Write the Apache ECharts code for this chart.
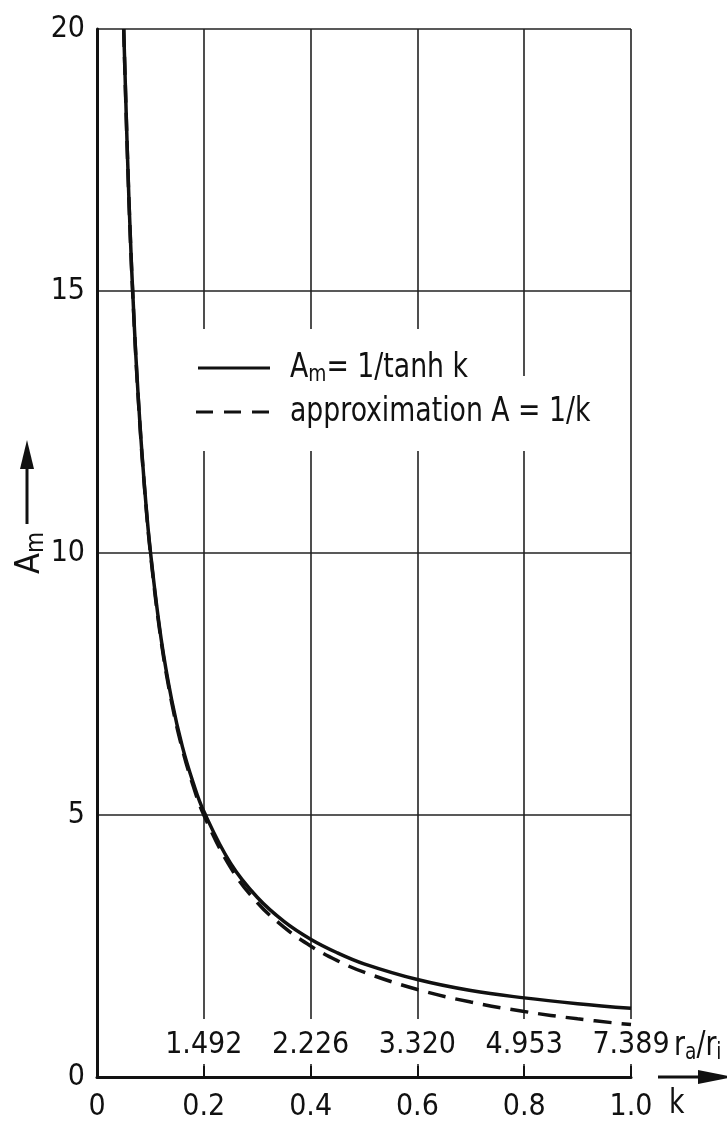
<!DOCTYPE html>
<html>
<head>
<meta charset="utf-8">
<script src="https://cdn.jsdelivr.net/npm/echarts@6/dist/echarts.min.js"></script>
<style>
  html, body { margin: 0; padding: 0; background: #fff; }
  #chart { width: 727px; height: 1126px; }
</style>
</head>
<body>
<div id="chart"></div>
<script>
// values
const kValues = [0.05, 0.06, 0.07, 0.08, 0.09, 0.10, 0.12, 0.14, 0.16, 0.18, 0.20,
  0.25, 0.30, 0.35, 0.40, 0.45, 0.50, 0.60, 0.70, 0.80, 0.90, 1.00]
const amValues = [20.0, 16.69, 14.31, 12.53, 11.14, 10.03, 8.37, 7.19, 6.30, 5.62, 5.07,
  4.08, 3.43, 2.97, 2.63, 2.37, 2.16, 1.86, 1.65, 1.51, 1.40, 1.31]
const approxValues = [20.0, 16.67, 14.29, 12.5, 11.11, 10.0, 8.33, 7.14, 6.25, 5.56, 5.0,
  4.0, 3.33, 2.86, 2.5, 2.22, 2.0, 1.67, 1.43, 1.25, 1.11, 1.0]
const kLabels = ['0', '0.2', '0.4', '0.6', '0.8', '1.0']
const ratioLabels = ['', '1.492', '2.226', '3.320', '4.953', '7.389']
const yLabels = ['0', '5', '10', '15', '20']

const FONT = "'DejaVu Sans Condensed', 'DejaVu Sans', sans-serif"
const INK = '#111'
const NARROW = 0.9 // squeeze free text towards the narrow lettering of the original

const chart = echarts.init(document.getElementById('chart'))

const pairs = (ys) => kValues.map((k, i) => [k, ys[i]])
const tickIndex = (v) => Math.round(v * 5)

chart.setOption({
  backgroundColor: '#fff',
  animation: false,
  grid: { left: 97, right: 96, top: 29, bottom: 49 },
  xAxis: [
    {
      type: 'value',
      min: 0,
      max: 1,
      interval: 0.2,
      z: 0,
      axisLine: { show: true, lineStyle: { color: INK, width: 3 } },
      axisTick: { show: true, inside: true, length: 11, lineStyle: { color: INK, width: 2 } },
      splitLine: { show: true, lineStyle: { color: '#222', width: 1.6 } },
      axisLabel: {
        margin: 15,
        fontFamily: FONT,
        fontSize: 30,
        color: INK,
        showMinLabel: true,
        showMaxLabel: true,
        formatter: (v) => kLabels[tickIndex(v)],
      },
    },
    {
      type: 'value',
      position: 'bottom',
      min: 0,
      max: 1,
      interval: 0.2,
      z: 5,
      axisLine: { show: false },
      axisTick: { show: false },
      splitLine: { show: false },
      axisLabel: {
        inside: true,
        margin: 17,
        fontFamily: FONT,
        fontSize: 30,
        color: INK,
        showMinLabel: true,
        showMaxLabel: true,
        formatter: (v) => ratioLabels[tickIndex(v)],
      },
    },
  ],
  yAxis: {
    type: 'value',
    min: 0,
    max: 20,
    interval: 5,
    axisLine: { show: true, lineStyle: { color: INK, width: 3 } },
    axisTick: { show: false },
    splitLine: { show: true, lineStyle: { color: '#222', width: 1.6 } },
    axisLabel: {
      margin: 12,
      fontFamily: FONT,
      fontSize: 30,
      color: INK,
      formatter: (v) => yLabels[Math.round(v / 5)],
    },
  },
  series: [
    {
      type: 'line',
      data: pairs(approxValues),
      smooth: 0.4,
      symbol: 'none',
      z: 2,
      lineStyle: { color: INK, width: 3.5, type: [18, 10] },
    },
    {
      type: 'line',
      data: pairs(amValues),
      smooth: 0.4,
      symbol: 'none',
      z: 3,
      lineStyle: { color: INK, width: 3.5 },
    },
  ],
  graphic: [
    // breaks in the grid behind the key and above the r_a/r_i row
    { type: 'rect', z: 1, shape: { x: 195, y: 329, width: 310, height: 122 }, style: { fill: '#fff' } },
    { type: 'rect', z: 1, shape: { x: 505, y: 376, width: 100, height: 75 }, style: { fill: '#fff' } },
    { type: 'rect', z: 1, shape: { x: 100, y: 1019, width: 540, height: 45 }, style: { fill: '#fff' } },

    // key
    { type: 'line', z: 6, shape: { x1: 198, y1: 368, x2: 270, y2: 368 }, style: { stroke: INK, lineWidth: 3 } },
    { type: 'line', z: 6, shape: { x1: 196, y1: 412, x2: 270, y2: 412 }, style: { stroke: INK, lineWidth: 3, lineDash: [17, 11] } },
    {
      type: 'text', z: 6, x: 290, y: 368, scaleX: NARROW,
      style: {
        text: '{a|A}{s|m}{a|= 1/tanh k}',
        verticalAlign: 'middle',
        rich: {
          a: { fontFamily: FONT, fontSize: 33, lineHeight: 38, fill: INK },
          s: { fontFamily: FONT, fontSize: 23, lineHeight: 24, verticalAlign: 'bottom', fill: INK },
        },
      },
    },
    {
      type: 'text', z: 6, x: 290, y: 412, scaleX: NARROW,
      style: {
        text: 'approximation A = 1/k',
        verticalAlign: 'middle',
        fontFamily: FONT, fontSize: 33, fill: INK,
      },
    },

    // x axis captions and arrow
    {
      type: 'text', z: 6, x: 674, y: 1046, scaleX: NARROW,
      style: {
        text: '{r|r}{s|a}{r|/r}{s|i}',
        verticalAlign: 'middle',
        rich: {
          r: { fontFamily: FONT, fontSize: 33, lineHeight: 38, fill: INK },
          s: { fontFamily: FONT, fontSize: 23, lineHeight: 24, verticalAlign: 'bottom', fill: INK },
        },
      },
    },
    { type: 'text', z: 6, x: 669, y: 1104, scaleX: NARROW, style: { text: 'k', verticalAlign: 'middle', fontFamily: FONT, fontSize: 33, fill: INK } },
    { type: 'line', z: 6, shape: { x1: 658, y1: 1077, x2: 705, y2: 1077 }, style: { stroke: INK, lineWidth: 3 } },
    { type: 'polygon', z: 6, shape: { points: [[698, 1070], [734, 1077], [698, 1084]] }, style: { fill: INK } },

    // y axis caption and arrow
    {
      type: 'text', z: 6, x: 30, y: 553, rotation: Math.PI / 2,
      style: {
        text: '{a|A}{s|m}',
        align: 'center',
        verticalAlign: 'middle',
        rich: {
          a: { fontFamily: FONT, fontSize: 34, lineHeight: 38, fill: INK },
          s: { fontFamily: FONT, fontSize: 24, lineHeight: 24, verticalAlign: 'bottom', fill: INK },
        },
      },
    },
    { type: 'line', z: 6, shape: { x1: 27, y1: 524, x2: 27, y2: 462 }, style: { stroke: INK, lineWidth: 3 } },
    { type: 'polygon', z: 6, shape: { points: [[20, 469], [27, 440], [34, 469]] }, style: { fill: INK } },
  ],
})
</script>
</body>
</html>
